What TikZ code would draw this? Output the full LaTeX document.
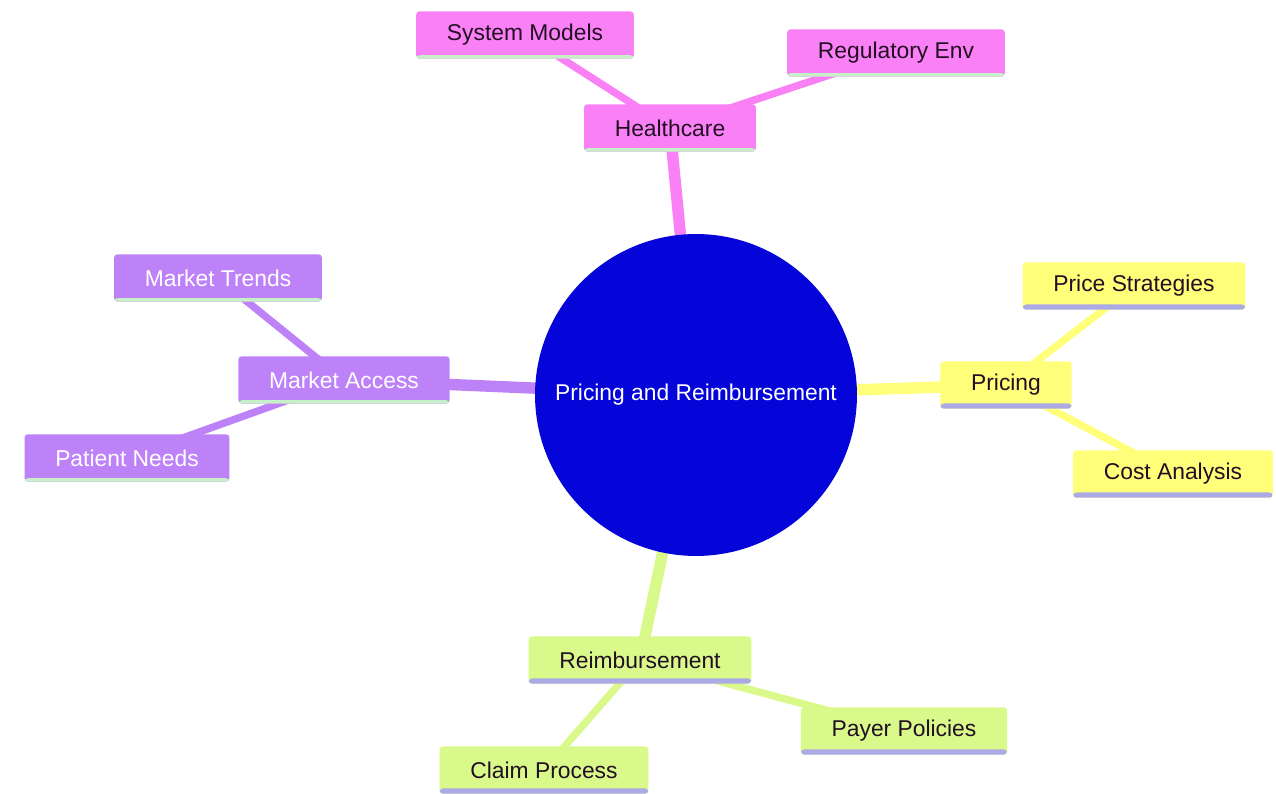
\documentclass[tikz,border=0pt]{standalone}
\usepackage{fontspec}
\setmainfont{Liberation Sans}
\usetikzlibrary{backgrounds}
\definecolor{rootblue}{RGB}{5,5,218}
\definecolor{hcpink}{RGB}{250,128,246}
\definecolor{mapurple}{RGB}{190,130,248}
\definecolor{pryellow}{RGB}{255,255,122}
\definecolor{regreen}{RGB}{217,250,138}
\definecolor{mintline}{RGB}{200,240,200}
\definecolor{lavline}{RGB}{172,170,230}
\definecolor{darktext}{RGB}{35,15,35}
\begin{document}
\begin{tikzpicture}[x=0.02cm, y=-0.02cm,
    box/.style={rounded corners=2pt, minimum height=0.95cm, inner xsep=17.5pt,
                font=\fontsize{13}{15}\selectfont},
    under/.style 2 args={path picture={\fill[#1]
        (path picture bounding box.south west) rectangle
        ([yshift=#2]path picture bounding box.south east);}},
    hc/.style={box, fill=hcpink, text=darktext, under={mintline}{2pt}},
    ma/.style={box, fill=mapurple, text=white, under={mintline}{2pt}},
    pr/.style={box, fill=pryellow, text=darktext, under={lavline}{3pt}},
    re/.style={box, fill=regreen, text=darktext, under={lavline}{3pt}},
    main/.style={line width=6.5pt},
    sub/.style={line width=4.2pt}]
  \useasboundingbox (0,0) rectangle (1276,794);

  \node (root) [circle, fill=rootblue, text=white, minimum size=6.44cm, inner sep=0pt,
        font=\fontsize{13}{15}\selectfont] at (696,395) {Pricing and Reimbursement};

  \node (H)  [hc] at (670,128) {Healthcare};
  \node (SM) [hc] at (525,35)  {System Models};
  \node (RE) [hc] at (896,53)  {Regulatory Env};

  \node (MA) [ma] at (344,380) {Market Access};
  \node (MT) [ma] at (218,278) {Market Trends};
  \node (PN) [ma] at (127,458) {Patient Needs};

  \node (P)  [pr] at (1006,385) {Pricing};
  \node (PS) [pr] at (1134,286) {Price Strategies};
  \node (CA) [pr] at (1173,474) {Cost Analysis};

  \node (R)  [re] at (640,660) {Reimbursement};
  \node (CP) [re] at (544,770) {Claim Process};
  \node (PP) [re] at (904,731) {Payer Policies};

  \begin{scope}[on background layer]
    \draw[main, hcpink] (root.center) to (H.center);
    \draw[sub, hcpink] (H.center) to (SM.center);
    \draw[sub, hcpink] (H.center) to (RE.center);

    \draw[main, mapurple] (root.center) to (MA.center);
    \draw[sub, mapurple] (MA.center) to (MT.center);
    \draw[sub, mapurple] (MA.center) to (PN.center);

    \draw[main, pryellow] (root.center) to (P.center);
    \draw[sub, pryellow] (P.center) to (PS.center);
    \draw[sub, pryellow] (P.center) to (CA.center);

    \draw[main, regreen] (root.center) to (R.center);
    \draw[sub, regreen] (R.center) to (CP.center);
    \draw[sub, regreen] (R.center) to (PP.center);
  \end{scope}
\end{tikzpicture}
\end{document}
